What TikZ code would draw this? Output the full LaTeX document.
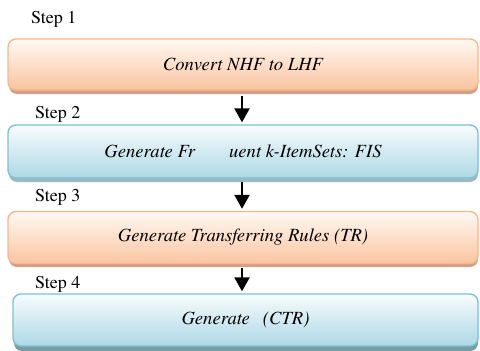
\documentclass[tikz,border=0pt]{standalone}
\usepackage{fontspec}
\setmainfont{texgyretermes}[Extension=.otf, UprightFont=*-regular, ItalicFont=*-italic, BoldFont=*-bold, BoldItalicFont=*-bolditalic]
\usetikzlibrary{arrows.meta}
\definecolor{orangeline}{RGB}{248,184,140}
\definecolor{orangetop}{RGB}{255,249,243}
\definecolor{orangebot}{RGB}{250,196,160}
\definecolor{orangeshadow}{RGB}{205,160,135}
\definecolor{blueline}{RGB}{122,194,214}
\definecolor{bluetop}{RGB}{248,252,253}
\definecolor{bluebot}{RGB}{172,216,229}
\definecolor{blueshadow}{RGB}{120,155,165}
\tikzset{
  stepbox/.style={rounded corners=8pt, line width=1.4pt, inner sep=0pt,
    font=\fontsize{18.6}{22}\selectfont\itshape},
  orangebox/.style={stepbox, draw=orangeline, top color=orangetop, bottom color=orangebot},
  bluebox/.style={stepbox, draw=blueline, top color=bluetop, bottom color=bluebot},
  steplabel/.style={anchor=base west, inner sep=0pt, font=\fontsize{18}{22}\selectfont},
  flow/.style={line width=2.4pt, -{Triangle[width=15pt,length=14pt]}}
}
\begin{document}
\begin{tikzpicture}[x=1pt,y=-1pt]
\useasboundingbox[fill=white] (0,0) rectangle (480,351);
% drop shadows under the boxes
\fill[orangeshadow, rounded corners=8pt] (9,45) rectangle (478,94);
\fill[blueshadow!70, rounded corners=8pt] (9,131) rectangle (478,182);
\fill[orangeshadow, rounded corners=8pt] (9,217) rectangle (478,267);
\fill[blueshadow, rounded corners=8pt] (14,300) rectangle (478,351);
% process steps
\node[orangebox, minimum width=470pt, minimum height=51pt] (b1) at (243,64.5) {Convert NHF to LHF};
\node[bluebox, minimum width=470pt, minimum height=53pt] (b2) at (243,151.5) {Generate Fr\hspace{34pt}uent k-ItemSets: FIS};
\node[orangebox, minimum width=470pt, minimum height=52pt] (b3) at (243,237.5) {Generate Transferring Rules (TR)};
\node[bluebox, minimum width=465pt, minimum height=52pt] (b4) at (245.5,320) {Generate\hspace{13pt}(CTR)};
% step labels
\node[steplabel] (s1) at (31,23) {Step 1};
\node[steplabel] (s2) at (35,118) {Step 2};
\node[steplabel] (s3) at (35,201) {Step 3};
\node[steplabel] (s4) at (35,288) {Step 4};
% connectors
\draw[flow] ([xshift=-1pt,yshift=-5pt]b1.south) -- ([xshift=-1pt,yshift=2pt]b2.north);
\draw[flow] ([xshift=-1pt,yshift=-3pt]b2.south) -- ([xshift=-1pt,yshift=2pt]b3.north);
\draw[flow] ([xshift=-1pt,yshift=-4pt]b3.south) -- ([xshift=-1pt,yshift=2pt]b3.south |- b4.north);
\end{tikzpicture}
\end{document}
